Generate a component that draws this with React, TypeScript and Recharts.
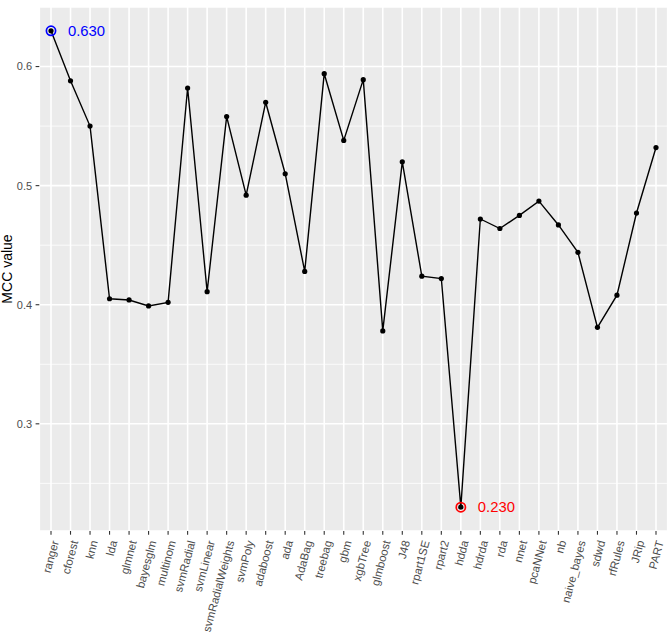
import React from 'react';
import { LineChart, Line, XAxis, YAxis, CartesianGrid, ReferenceLine, ReferenceDot, Label } from 'recharts';

const models = [
  'ranger', 'cforest', 'knn', 'lda', 'glmnet', 'bayesglm', 'multinom', 'svmRadial',
  'svmLinear', 'svmRadialWeights', 'svmPoly', 'adaboost', 'ada', 'AdaBag', 'treebag', 'gbm',
  'xgbTree', 'glmboost', 'J48', 'rpart1SE', 'rpart2', 'hdda', 'hdrda', 'rda',
  'nnet', 'pcaNNet', 'nb', 'naive_bayes', 'sdwd', 'rfRules', 'JRip', 'PART',
];

const mccValues = [
  0.630, 0.588, 0.550, 0.405, 0.404, 0.399, 0.402, 0.582,
  0.411, 0.558, 0.492, 0.570, 0.510, 0.428, 0.594, 0.538,
  0.589, 0.378, 0.520, 0.424, 0.422, 0.230, 0.472, 0.464,
  0.475, 0.487, 0.467, 0.444, 0.381, 0.408, 0.477, 0.532,
];

const yTicks = [0.3, 0.4, 0.5, 0.6];
const yMinorTicks = [0.25, 0.35, 0.45, 0.55];
const yDomain = [0.21, 0.65];

const data = models.map((model, i) => ({ model, mcc: mccValues[i] }));

const maxIdx = mccValues.indexOf(Math.max(...mccValues));
const minIdx = mccValues.indexOf(Math.min(...mccValues));
const best = data[maxIdx];
const worst = data[minIdx];

const FONT = '"Liberation Sans", Arial, Helvetica, sans-serif';
const PANEL = '#EBEBEB';
const TICK_TEXT = '#4D4D4D';

const ModelTick = ({ x, y, payload }: any) => (
  <g transform={`translate(${x + 4},${y + 4})`}>
    <text transform="rotate(-75)" textAnchor="end" dy="0.35em" fill={TICK_TEXT} fontSize={11.4}>
      {payload.value}
    </text>
  </g>
);

const YTitle = ({ viewBox }: any) => {
  const cy = viewBox.y + viewBox.height / 2;
  return (
    <text x={12} y={cy} transform={`rotate(-90, 12, ${cy})`} textAnchor="middle" fontSize={14} fill="#000">
      MCC value
    </text>
  );
};

export default function App() {
  return (
    <div style={{ position: 'absolute', left: 0, top: 0, width: 670, height: 634, background: '#fff', fontFamily: FONT }}>
      <LineChart width={670} height={634} data={data} margin={{ top: 7, right: 2.3, bottom: 0, left: 0 }}>
        <CartesianGrid fill={PANEL} fillOpacity={1} stroke="#FFFFFF" strokeWidth={1.6} />
        {yMinorTicks.map((v) => (
          <ReferenceLine key={v} y={v} stroke="#FFFFFF" strokeWidth={0.8} />
        ))}
        <XAxis
          dataKey="model"
          interval={0}
          height={103}
          padding={{ left: 11.7, right: 11.7 }}
          axisLine={false}
          tickSize={3.7}
          tickLine={{ stroke: '#333333', strokeWidth: 1.1 }}
          tick={<ModelTick />}
        />
        <YAxis
          type="number"
          domain={yDomain}
          ticks={yTicks}
          width={39.3}
          axisLine={false}
          tickSize={3.7}
          tickMargin={3.5}
          tickLine={{ stroke: '#333333', strokeWidth: 1.1 }}
          tick={{ fill: TICK_TEXT, fontSize: 11 }}
          tickFormatter={(v: number) => v.toFixed(1)}
        >
          <Label content={<YTitle />} />
        </YAxis>
        <Line
          type="linear"
          dataKey="mcc"
          stroke="#000"
          strokeWidth={1.4}
          dot={{ r: 2.6, fill: '#000', stroke: 'none' }}
          activeDot={false}
          isAnimationActive={false}
        />
        <ReferenceDot
          x={best.model}
          y={best.mcc}
          r={4.6}
          fill="none"
          stroke="#0000FF"
          strokeWidth={1.7}
          label={<Label value={best.mcc.toFixed(3)} position="right" offset={12.4} fill="#0000FF" fontSize={14.8} />}
        />
        <ReferenceDot
          x={worst.model}
          y={worst.mcc}
          r={4.6}
          fill="none"
          stroke="#FF0000"
          strokeWidth={1.7}
          label={<Label value={worst.mcc.toFixed(3)} position="right" offset={12.4} fill="#FF0000" fontSize={14.8} />}
        />
      </LineChart>
    </div>
  );
}
